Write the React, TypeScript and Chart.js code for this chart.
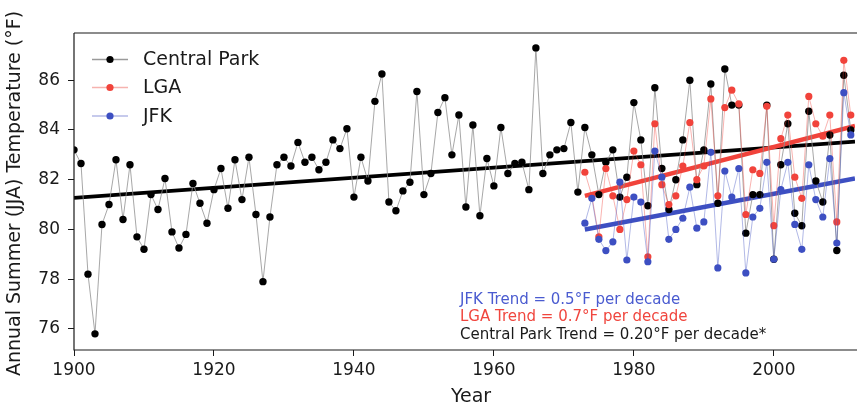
import React, { useEffect, useRef } from 'react';
import { Chart, registerables } from 'chart.js';

Chart.register(...registerables);

// ---- data ----
const cpStartYear = 1900;
const cpTemps = [
  83.2, 82.65, 78.2, 75.8, 80.2, 81.0, 82.8, 80.4, 82.6, 79.7,
  79.2, 81.4, 80.8, 82.05, 79.9, 79.25, 79.8, 81.85, 81.05, 80.25,
  81.6, 82.45, 80.85, 82.8, 81.2, 82.9, 80.6, 77.9, 80.5, 82.6,
  82.9, 82.55, 83.5, 82.7, 82.9, 82.4, 82.7, 83.6, 83.25, 84.05,
  81.3, 82.9, 81.95, 85.15, 86.25, 81.1, 80.75, 81.55, 81.9, 85.55,
  81.4, 82.25, 84.7, 85.3, 83.0, 84.6, 80.9, 84.2, 80.55, 82.85,
  81.75, 84.1, 82.25, 82.65, 82.7, 81.6, 87.3, 82.25, 83.0, 83.2,
  83.25, 84.3, 81.5, 84.1, 83.0, 81.4, 82.7, 83.2, 81.3, 82.1,
  85.1, 83.6, 80.95, 85.7, 82.45, 80.8, 82.0, 83.6, 86.0, 81.8,
  83.2, 85.85, 81.05, 86.45, 85.0, 85.0, 79.85, 81.4, 81.4, 85.0,
  78.8, 82.6, 84.25, 80.65, 80.15, 84.75, 81.95, 81.1, 83.8, 79.15,
  86.2, 84.0,
];
const airportStartYear = 1973;
const lgaTemps = [
  82.3, 81.35, 79.7, 82.45, 81.35, 80.0, 81.2,
  83.15, 82.6, 78.9, 84.25, 81.8, 81.0, 81.35, 82.55, 84.3, 82.0,
  82.55, 85.25, 81.35, 84.9, 85.6, 85.05, 80.6, 82.4, 82.25, 84.95,
  80.15, 83.65, 84.6, 82.1, 81.25, 85.35, 84.25, 83.75, 84.6, 80.3,
  86.8, 84.6,
];
const jfkTemps = [
  80.25, 81.25, 79.6, 79.15, 79.5, 81.9, 78.77,
  81.3, 81.1, 78.7, 83.15, 82.1, 79.6, 80.0, 80.45, 81.7, 80.05,
  80.3, 83.1, 78.45, 82.35, 81.3, 82.45, 78.25, 80.5, 80.85, 82.7,
  78.8, 81.6, 82.7, 80.2, 79.2, 82.6, 81.2, 80.5, 82.85, 79.45,
  85.5, 83.8,
];
const cpTrendYears = [1900, 2011.6];
const cpTrendValues = [81.27, 83.53];
const airportTrendYears = [1973, 2011.6];
const lgaTrendValues = [81.35, 84.16];
const jfkTrendValues = [80.0, 82.05];

const xTickValues = [1900, 1920, 1940, 1960, 1980, 2000];
const yTickValues = [76, 78, 80, 82, 84, 86];
const xRange = [1900, 2011.6];
const yRange = [75.15, 87.9];

const legendLabels = ['Central Park', 'LGA', 'JFK'];
const trendNotes = [
  'JFK Trend = 0.5°F per decade',
  'LGA Trend = 0.7°F per decade',
  'Central Park Trend = 0.20°F per decade*',
];
const xTitle = 'Year';
const yTitle = 'Annual Summer (JJA) Temperature (°F)';

// ---- styles ----
const FONT = "'DejaVu Sans', sans-serif";
const BLACK = '#000000';
const RED = '#f1433b';
const BLUE = '#3d4fc2';
const legendStyles = [
  { line: '#9a9a9a', marker: BLACK },
  { line: '#f6b3af', marker: RED },
  { line: '#b3b9e6', marker: BLUE },
];
const noteColors = ['#4a5bd0', '#f0463e', '#1a1a1a'];

const toPoints = (start: number, vals: number[]) =>
  vals.map((v, i) => ({ x: start + i, y: v }));
const pairPoints = (xs: number[], ys: number[]) =>
  xs.map((x, i) => ({ x, y: ys[i] }));

const decorPlugin = {
  id: 'decor',
  afterDatasetsDraw(chart: any) {
    const { ctx, chartArea: a } = chart;
    ctx.save();
    ctx.strokeStyle = '#1a1a1a';
    ctx.lineWidth = 1.2;
    ctx.beginPath();
    ctx.moveTo(a.left, a.top);
    ctx.lineTo(a.right + 2, a.top);
    ctx.moveTo(a.left, a.top);
    ctx.lineTo(a.left, a.bottom);
    ctx.lineTo(a.right + 2, a.bottom);
    ctx.stroke();
    ctx.restore();
  },
  afterDraw(chart: any) {
    const { ctx, chartArea: a } = chart;
    ctx.save();
    // legend
    const rows = [59.5, 87.5, 116];
    legendLabels.forEach((lab, i) => {
      const y = rows[i];
      ctx.strokeStyle = legendStyles[i].line;
      ctx.lineWidth = 1.5;
      ctx.beginPath();
      ctx.moveTo(92, y);
      ctx.lineTo(128, y);
      ctx.stroke();
      ctx.fillStyle = legendStyles[i].marker;
      ctx.beginPath();
      ctx.arc(110, y, 3.6, 0, Math.PI * 2);
      ctx.fill();
      ctx.fillStyle = '#1a1a1a';
      ctx.font = `19px ${FONT}`;
      ctx.textAlign = 'left';
      ctx.textBaseline = 'middle';
      ctx.fillText(lab, 143, y + 1);
    });
    // trend notes
    ctx.font = `15px ${FONT}`;
    ctx.textAlign = 'left';
    ctx.textBaseline = 'alphabetic';
    const bases = [303.5, 321, 338.5];
    trendNotes.forEach((t, i) => {
      ctx.fillStyle = noteColors[i];
      ctx.fillText(t, 460, bases[i]);
    });
    // axis titles
    ctx.fillStyle = '#1a1a1a';
    ctx.font = `19px ${FONT}`;
    ctx.textAlign = 'center';
    ctx.textBaseline = 'middle';
    ctx.fillText(xTitle, 471, 397);
    ctx.translate(15, (a.top + a.bottom) / 2 + 2);
    ctx.rotate(-Math.PI / 2);
    ctx.fillText(yTitle, 0, 0);
    ctx.restore();
  },
};

export default function App() {
  const ref = useRef<HTMLCanvasElement | null>(null);
  useEffect(() => {
    if (!ref.current) return;
    const chart = new Chart(ref.current, {
      type: 'line',
      data: {
        datasets: [
          {
            label: 'JFK',
            data: toPoints(airportStartYear, jfkTemps),
            borderColor: 'rgba(61,79,194,0.45)',
            borderWidth: 0.9,
            pointBackgroundColor: BLUE,
            pointBorderWidth: 0,
            pointRadius: 3.6,
          },
          {
            label: 'LGA',
            data: toPoints(airportStartYear, lgaTemps),
            borderColor: 'rgba(241,67,59,0.45)',
            borderWidth: 0.9,
            pointBackgroundColor: RED,
            pointBorderWidth: 0,
            pointRadius: 3.6,
          },
          {
            label: 'Central Park',
            data: toPoints(cpStartYear, cpTemps),
            borderColor: '#909090',
            borderWidth: 0.8,
            pointBackgroundColor: BLACK,
            pointBorderWidth: 0,
            pointRadius: 3.7,
          },
          {
            label: 'LGA trend',
            data: pairPoints(airportTrendYears, lgaTrendValues),
            borderColor: RED,
            borderWidth: 4.5,
            pointRadius: 0,
          },
          {
            label: 'JFK trend',
            data: pairPoints(airportTrendYears, jfkTrendValues),
            borderColor: BLUE,
            borderWidth: 4.5,
            pointRadius: 0,
          },
          {
            label: 'Central Park trend',
            data: pairPoints(cpTrendYears, cpTrendValues),
            borderColor: BLACK,
            borderWidth: 3.6,
            pointRadius: 0,
          },
        ],
      },
      options: {
        animation: false,
        responsive: false,
        devicePixelRatio: 1,
        layout: { padding: { top: 33, right: 0, left: 0, bottom: 0 } },
        plugins: { legend: { display: false }, tooltip: { enabled: false } },
        elements: { line: { tension: 0 } },
        scales: {
          x: {
            type: 'linear',
            min: xRange[0],
            max: xRange[1],
            afterBuildTicks: (s: any) => {
              s.ticks = xTickValues.map((v) => ({ value: v }));
            },
            afterFit: (s: any) => {
              s.height = 58;
            },
            grid: {
              display: true,
              drawOnChartArea: false,
              drawTicks: true,
              tickLength: 6,
              color: '#1a1a1a',
              lineWidth: 1,
            },
            border: { display: false },
            ticks: {
              color: '#1a1a1a',
              font: { family: FONT, size: 17 },
              padding: 4,
              maxRotation: 0,
              autoSkip: false,
              callback: (v: any) => String(v),
            },
          },
          y: {
            type: 'linear',
            min: yRange[0],
            max: yRange[1],
            afterBuildTicks: (s: any) => {
              s.ticks = yTickValues.map((v) => ({ value: v }));
            },
            afterFit: (s: any) => {
              s.width = 74;
            },
            grid: {
              display: true,
              drawOnChartArea: false,
              drawTicks: true,
              tickLength: 6,
              color: '#1a1a1a',
              lineWidth: 1,
            },
            border: { display: false },
            ticks: {
              color: '#1a1a1a',
              font: { family: FONT, size: 17 },
              padding: 8,
              autoSkip: false,
              callback: (v: any) => String(v),
            },
          },
        },
      },
      plugins: [decorPlugin],
    });
    return () => chart.destroy();
  }, []);
  return (
    <div style={{ position: 'absolute', left: 0, top: 0, width: 859, height: 408, background: '#fff', overflow: 'hidden' }}>
      <canvas ref={ref} width={859} height={408} style={{ display: 'block' }} />
    </div>
  );
}
